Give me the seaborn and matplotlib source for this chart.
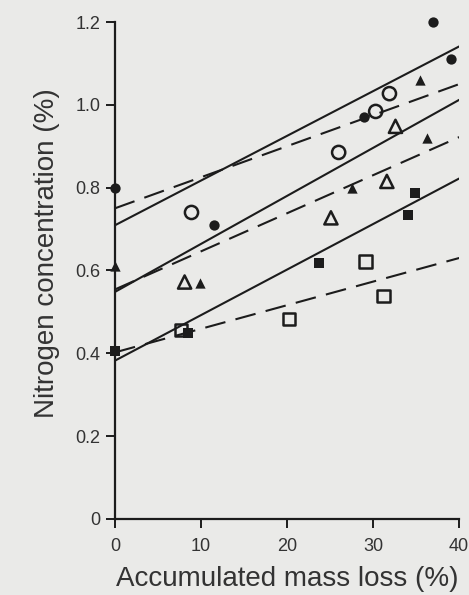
import numpy as np
import pandas as pd
import matplotlib
matplotlib.use("Agg")
import matplotlib.pyplot as plt
import seaborn as sns

sns.set_style("ticks")
plt.rcParams['font.family'] = ['Liberation Sans', 'DejaVu Sans']

# Points: accumulated mass loss (%) vs nitrogen (%)
filled_circle_x = [0, 11.5, 29, 37, 39]
filled_circle_y = [0.80, 0.71, 0.97, 1.20, 1.11]
open_circle_x = [8.9, 26, 30.3, 31.9]
open_circle_y = [0.74, 0.885, 0.984, 1.027]

filled_tri_x = [0, 9.9, 27.5, 35.4, 36.3]
filled_tri_y = [0.61, 0.57, 0.80, 1.06, 0.92]
open_tri_x = [8.1, 25.1, 31.6, 32.6]
open_tri_y = [0.572, 0.727, 0.815, 0.948]

filled_sq_x = [0, 8.5, 23.7, 34.1, 34.9]
filled_sq_y = [0.405, 0.45, 0.618, 0.735, 0.787]
open_sq_x = [7.7, 20.2, 29.1, 31.2]
open_sq_y = [0.456, 0.482, 0.622, 0.538]

# fitted lines (intercept, slope) - solid for filled, dashed for open symbols
line_names = ["circle filled", "circle open", "tri filled", "tri open", "sq filled", "sq open"]
intercepts = [0.709, 0.750, 0.548, 0.554, 0.382, 0.402]
slopes = [0.0108, 0.0075, 0.0116, 0.0092, 0.0110, 0.0057]
line_dashed = [False, True, False, True, False, True]
x_range = [0, 40]

ink = "#1c1c1c"
paper = "#eaeae8"

fig = plt.figure(figsize=(4.69, 5.95), dpi=100, facecolor=paper)
ax = fig.add_axes([0.245, 0.128, 0.734, 0.835])
ax.set_facecolor(paper)

for name, b0, b1, dashed in zip(line_names, intercepts, slopes, line_dashed):
    xs = np.array(x_range, dtype=float)
    sns.lineplot(x=xs, y=b0 + b1 * xs, ax=ax, color=ink, linewidth=1.5)
    if dashed:
        ax.lines[-1].set_dashes((10, 5))

marker_sets = [
    (filled_circle_x, filled_circle_y, "o", 55, True),
    (open_circle_x, open_circle_y, "o", 90, False),
    (filled_tri_x, filled_tri_y, "^", 55, True),
    (open_tri_x, open_tri_y, "^", 90, False),
    (filled_sq_x, filled_sq_y, "s", 50, True),
    (open_sq_x, open_sq_y, "s", 80, False),
]
for xs, ys, mk, size, filled in marker_sets:
    if filled:
        sns.scatterplot(x=xs, y=ys, ax=ax, marker=mk, s=size, color=ink,
                        edgecolor=ink, linewidth=0, zorder=3, clip_on=False)
    else:
        sns.scatterplot(x=xs, y=ys, ax=ax, marker=mk, s=size, facecolor="none",
                        edgecolor=ink, linewidth=1.8, zorder=3, clip_on=False)

ax.set_xlim(0, 40)
ax.set_ylim(0, 1.2)
ax.set_xticks([0, 10, 20, 30, 40])
ax.set_yticks([0, 0.2, 0.4, 0.6, 0.8, 1.0, 1.2])
ax.set_yticklabels(["0", "0.2", "0.4", "0.6", "0.8", "1.0", "1.2"])

sns.despine(ax=ax)
for side in ["left", "bottom"]:
    ax.spines[side].set_color(ink)
    ax.spines[side].set_linewidth(1.6)
ax.tick_params(direction="out", length=6.5, width=1.4, color=ink,
               labelsize=13, labelcolor="#333333", pad=4)
ax.tick_params(axis="x", pad=7)

ax.set_xlabel("Accumulated mass loss (%)", fontsize=20, color="#333333", labelpad=8)
ax.set_ylabel("Nitrogen concentration (%)", fontsize=20, color="#333333")
ax.yaxis.set_label_coords(-0.16, 0.535)

fig.savefig("out.png", dpi=100, facecolor=paper)
